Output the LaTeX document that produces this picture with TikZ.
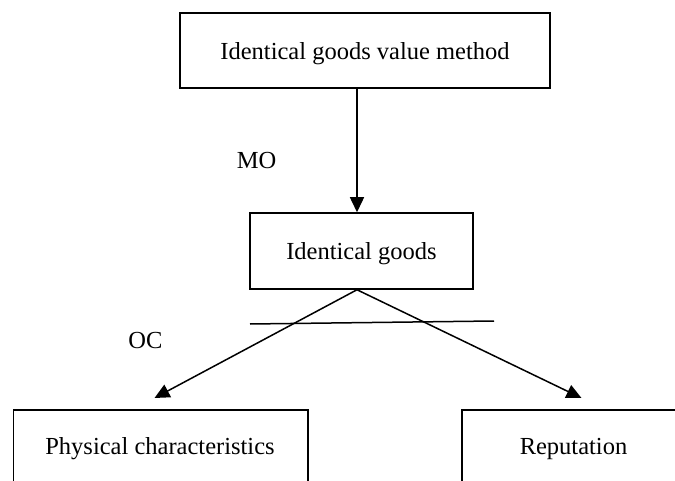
\documentclass[tikz,border=0pt]{standalone}
\usepackage{fontspec}
\setmainfont{Liberation Serif}
\usetikzlibrary{arrows.meta,calc}

\tikzset{
  box/.style={draw, line width=1.5pt, rectangle, inner sep=0pt},
  lbl/.style={inner sep=0pt, anchor=base, font=\fontsize{24.5}{29}\selectfont},
  arr/.style={line width=1.5pt, -{Triangle[length=15pt,width=14pt]}},
  plain/.style={line width=1.5pt}
}

\begin{document}
\begin{tikzpicture}[x=1pt, y=-1pt]
  \useasboundingbox (0,0) rectangle (675,481);
  \clip (0,0) rectangle (675,481);

  % method box at the top
  \node[box, minimum width=370pt, minimum height=75pt] (method) at (365,50.5) {};
  \node[lbl] (methodT) at (365,60) {Identical goods value method};

  % identical goods box
  \node[box, minimum width=223pt, minimum height=76pt] (goods) at (361.5,251) {};
  \node[lbl] (goodsT) at (361.5,260) {Identical goods};

  % lower boxes, running past the lower and right edges
  \node[box, minimum width=294.5pt, minimum height=120pt, anchor=north west] (phys) at (12.7,409) {};
  \node[lbl] (physT) at (160,454) {Physical characteristics};
  \node[box, minimum width=225pt, minimum height=120pt, anchor=north west] (rep) at (461,409) {};
  \node[lbl] (repT) at (573.5,454) {Reputation};

  % connectors
  \coordinate (join) at ([xshift=-4.5pt]goods.north);
  \coordinate (split) at ([xshift=-4.5pt]goods.south);
  \draw[arr] (method.south -| join) -- (join);
  \draw[arr] (split) -- ($(phys.north west)+(141.8,-11)$);
  \draw[arr] (split) -- ($(rep.north west)+(120.5,-11)$);

  % crossing stroke
  \coordinate (cutA) at (250,324);
  \coordinate (cutB) at (494,321);
  \draw[plain] (cutA) -- (cutB);

  % labels
  \node[lbl] (mo) at (256.5,168.5) {MO};
  \node[lbl] (oc) at (145.5,348) {OC};
\end{tikzpicture}
\end{document}
